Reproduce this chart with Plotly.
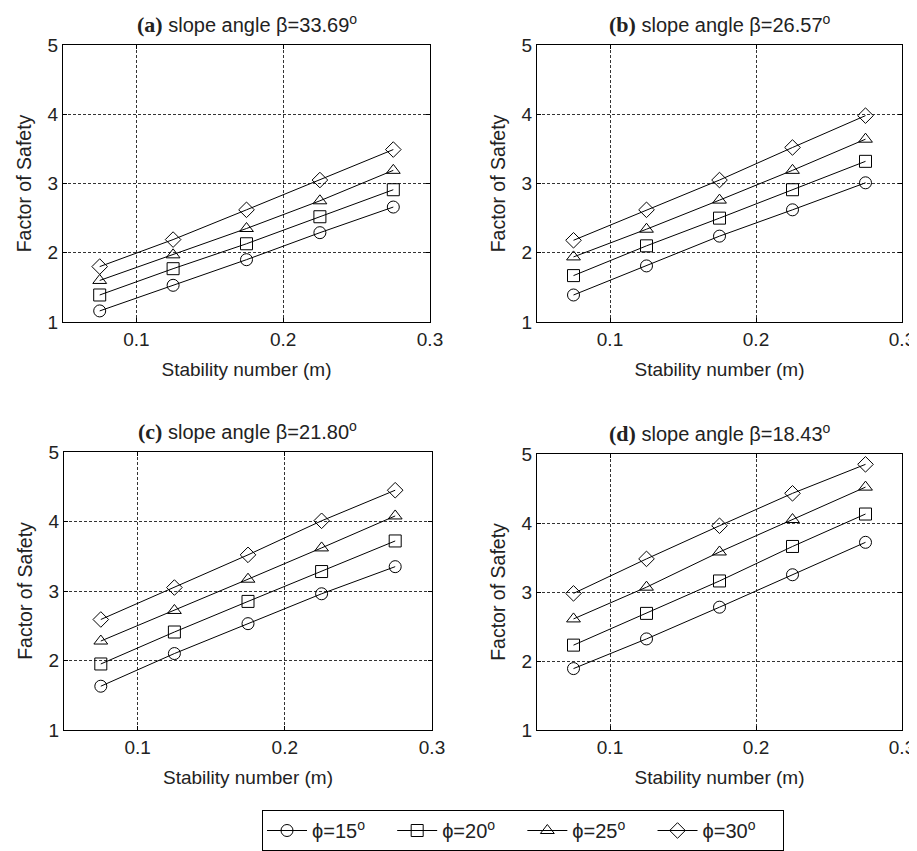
import plotly.graph_objects as go

x_vals = [0.075, 0.125, 0.175, 0.225, 0.275]

panel_labels = ["(a)", "(b)", "(c)", "(d)"]
slope_angles = ["33.69", "26.57", "21.80", "18.43"]
phi_labels = ["15", "20", "25", "30"]

# Factor of safety per panel, per phi (15, 20, 25, 30)
fos_a = [[1.16, 1.53, 1.90, 2.29, 2.66],
         [1.39, 1.77, 2.13, 2.52, 2.91],
         [1.60, 1.97, 2.35, 2.75, 3.19],
         [1.80, 2.19, 2.62, 3.05, 3.49]]
fos_b = [[1.39, 1.81, 2.24, 2.62, 3.01],
         [1.67, 2.10, 2.50, 2.91, 3.32],
         [1.94, 2.34, 2.76, 3.19, 3.64],
         [2.18, 2.62, 3.05, 3.52, 3.98]]
fos_c = [[1.63, 2.10, 2.53, 2.96, 3.35],
         [1.95, 2.41, 2.85, 3.28, 3.72],
         [2.28, 2.72, 3.17, 3.62, 4.08],
         [2.59, 3.05, 3.52, 4.01, 4.45]]
fos_d = [[1.89, 2.32, 2.78, 3.25, 3.72],
         [2.23, 2.69, 3.16, 3.66, 4.13],
         [2.61, 3.07, 3.58, 4.05, 4.52],
         [2.98, 3.48, 3.96, 4.43, 4.85]]
panels = [fos_a, fos_b, fos_c, fos_d]

x_ticks = [0.1, 0.2, 0.3]
y_ticks = [1, 2, 3, 4, 5]

symbols = ["circle-open", "square-open", "triangle-up-open", "diamond-open"]

OFF = 8  # default page body margin
W, H = 917 - OFF, 851 - OFF


def px(xp):
    return (xp - OFF) / W


def py(yp):
    return (H - (yp - OFF)) / H


# plot-area pixel boxes in page coordinates (left, right, top, bottom)
boxes = [(63, 430, 45, 322), (537, 902, 45, 322), (64, 432, 452, 730), (537, 902, 454, 730)]

FONT = "Liberation Sans, Arial, sans-serif"
TXT = "#222"
NB = "\u00a0"
fig = go.Figure()

for i, fos in enumerate(panels):
    ax = "" if i == 0 else str(i + 1)
    for j, ys in enumerate(fos):
        fig.add_trace(go.Scatter(
            x=x_vals, y=ys, mode="lines+markers",
            xaxis="x" + ax, yaxis="y" + ax,
            name="\u03d5=" + phi_labels[j] + "<sup>o</sup>" + NB * 4,
            legendgroup=phi_labels[j], showlegend=(i == 0),
            line=dict(color="black", width=1),
            marker=dict(symbol=symbols[j], size=12, color="black",
                        line=dict(color="black", width=1)),
        ))
    l, r, t, b = boxes[i]
    xd = [px(l), px(r)]
    yd = [py(b), py(t)]
    common = dict(showline=True, linecolor="black", linewidth=1.3, mirror="ticks",
                  ticks="inside", ticklen=4, tickcolor="black", automargin=False,
                  showgrid=True, gridcolor="#333", gridwidth=1, griddash="3px,2px",
                  zeroline=False, tickfont=dict(size=19, color=TXT, family=FONT))
    fig.update_layout(**{
        "xaxis" + ax: dict(domain=xd, range=[0.05, 0.3], tickvals=x_ticks,
                           ticktext=["0.1", "0.2", "0.3"],
                           title=dict(text="Stability number (m)", standoff=13,
                                      font=dict(size=19, color=TXT, family=FONT)),
                           anchor="y" + ax, **common),
        "yaxis" + ax: dict(domain=yd, range=[1, 5], tickvals=y_ticks,
                           title=dict(text="Factor of Safety", standoff=10,
                                      font=dict(size=19.5, color=TXT, family=FONT)),
                           anchor="x" + ax, **common),
    })
    fig.add_annotation(
        x=(xd[0] + xd[1]) / 2, y=py(t - 21), xref="paper", yref="paper",
        xanchor="center", yanchor="middle", showarrow=False,
        text="<span style='font-family:Liberation Serif;font-size:22px'><b>" + panel_labels[i]
             + "</b></span> slope angle \u03b2=" + slope_angles[i] + "<sup>o</sup>",
        font=dict(size=20, color=TXT, family=FONT))

fig.update_layout(
    width=W, height=H, margin=dict(l=0, r=0, t=0, b=0, autoexpand=False),
    paper_bgcolor="white", plot_bgcolor="white",
    showlegend=True,
    legend=dict(orientation="h", x=px(523), xanchor="center", y=py(810), yanchor="top",
                bordercolor="black", borderwidth=1, bgcolor="white",
                font=dict(size=20, color=TXT, family=FONT), itemwidth=40,
                tracegroupgap=0),
)

fig.write_html("out.html")
